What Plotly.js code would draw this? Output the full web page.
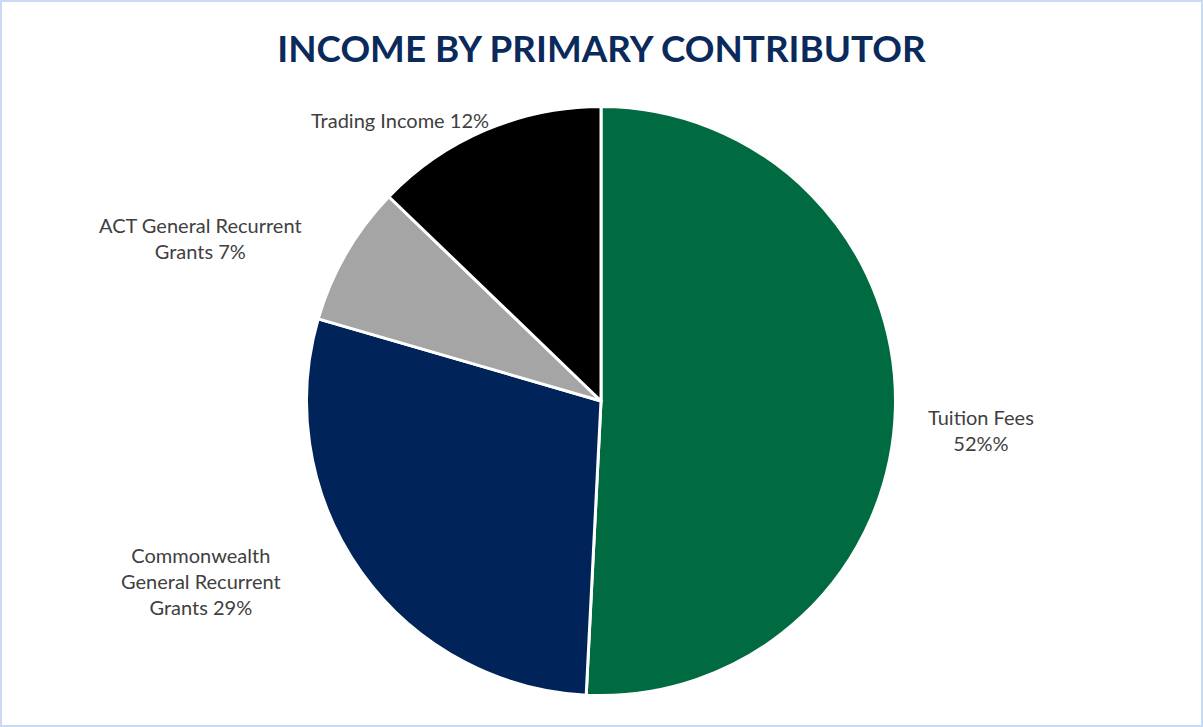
<!DOCTYPE html>
<html>
<head>
<meta charset="utf-8">
<script src="https://cdn.plot.ly/plotly-3.0.1.min.js"></script>
<style>
html,body{margin:0;padding:0;background:#fff;}
#wrap{position:relative;width:1203px;height:727px;}
#chart{width:1203px;height:727px;}
#frame{position:absolute;left:0;top:0;width:1203px;height:727px;box-sizing:border-box;border:2px solid #c8dbf3;pointer-events:none;}
</style>
</head>
<body>
<div id="wrap"><div id="chart"></div><div id="frame"></div></div>
<script>
const categories = ["Tuition Fees", "Commonwealth General Recurrent Grants", "ACT General Recurrent Grants", "Trading Income"];
const values = [50.8, 28.7, 7.7, 12.8];
const labelTexts = ["Tuition Fees<br>52%%", "Commonwealth<br>General Recurrent<br>Grants 29%", "ACT General Recurrent<br>Grants 7%", "Trading Income 12%"];
const colors = ["#006a40", "#00245a", "#a5a5a5", "#000000"];

const labelPos = [
  {x: 981/1203, y: 1 - 430/727},
  {x: 201/1203, y: 1 - 581/727},
  {x: 200/1203, y: 1 - 238/727},
  {x: 400/1203, y: 1 - 120/727}
];

const annotations = labelTexts.map((t, i) => ({
  text: t, xref: 'paper', yref: 'paper', x: labelPos[i].x, y: labelPos[i].y,
  xanchor: 'center', yanchor: 'middle', showarrow: false, align: 'center',
  font: {family: 'Lato, "Open Sans", sans-serif', size: 20, color: '#404040'}
}));

const trace = {
  type: 'pie',
  labels: categories,
  values: values,
  sort: false,
  direction: 'clockwise',
  rotation: 0,
  textinfo: 'none',
  hoverinfo: 'label+percent',
  marker: {colors: colors, line: {color: '#ffffff', width: 3}},
  domain: {x: [306.5/1203, 895.5/1203], y: [1 - 695.5/727, 1 - 106.5/727]},
  showlegend: false
};

const layout = {
  width: 1203, height: 727,
  margin: {l: 0, r: 0, t: 0, b: 0},
  paper_bgcolor: '#ffffff',
  title: {
    text: '<b>INCOME BY PRIMARY CONTRIBUTOR</b>',
    x: 0.5, xanchor: 'center', xref: 'paper',
    y: 1 - 49/727, yanchor: 'middle', yref: 'container',
    font: {family: 'Lato, "Open Sans", sans-serif', size: 36.8, color: '#0b2a5c'}
  },
  annotations: annotations,
  showlegend: false
};

Plotly.newPlot('chart', [trace], layout, {displayModeBar: false, staticPlot: true});
</script>
</body>
</html>
